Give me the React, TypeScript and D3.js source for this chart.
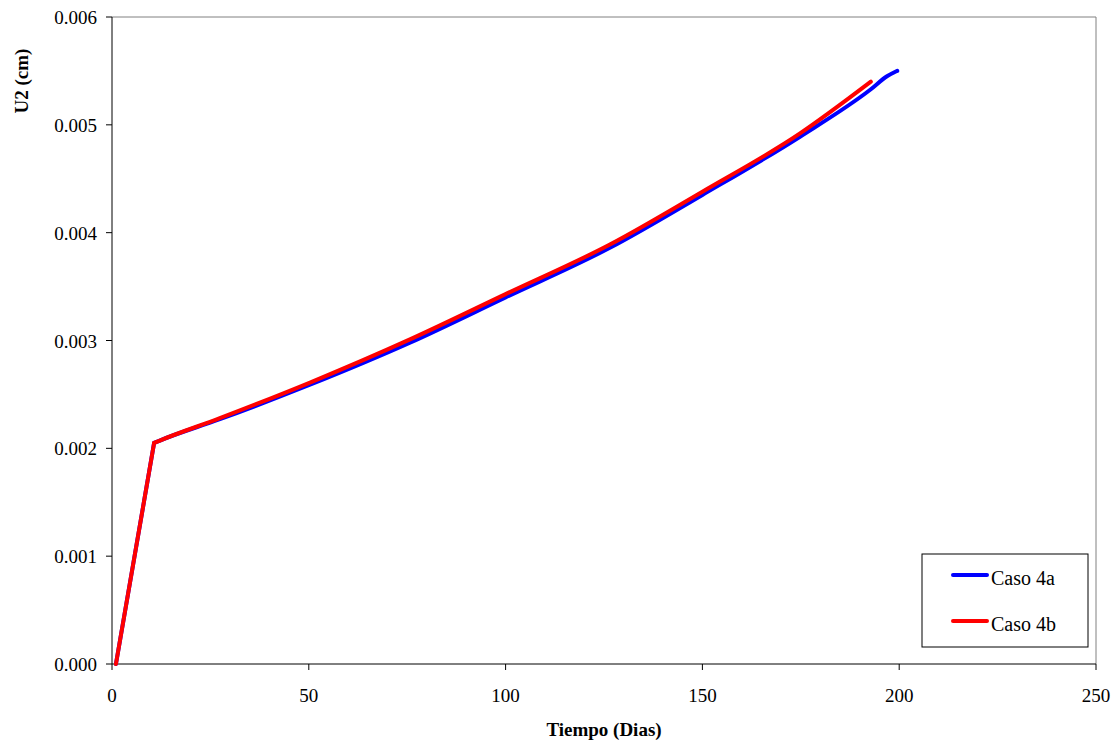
import React from "react";
import * as d3 from "d3";

const xTicks = [0, 50, 100, 150, 200, 250];
const yTicks = [0, 0.001, 0.002, 0.003, 0.004, 0.005, 0.006];

const caso4aX = [1, 10.7, 12, 27.4, 50.3, 75.7, 100, 126.5, 150, 174.8, 192.8, 196.9, 198.9, 199.5];
const caso4aY = [0, 0.00205, 0.00207, 0.00227, 0.00259, 0.00298, 0.0034, 0.00386, 0.00435, 0.00489, 0.00533, 0.00545, 0.00549, 0.0055];

const caso4bX = [1, 10.7, 12, 27.4, 50.3, 75.7, 100, 126.5, 150, 174.8, 192.8];
const caso4bY = [0, 0.00205, 0.00207, 0.00228, 0.00261, 0.00301, 0.00343, 0.00389, 0.00438, 0.00492, 0.0054];

const series = [
  { name: "Caso 4a", color: "#0000FF", xs: caso4aX, ys: caso4aY },
  { name: "Caso 4b", color: "#FF0000", xs: caso4bX, ys: caso4bY },
];

export default function App() {
  const W = 1120, H = 744;
  const left = 112, right = 1096, top = 17, bottom = 664;
  const x = d3.scaleLinear().domain([0, 250]).range([left, right]);
  const y = d3.scaleLinear().domain([0, 0.006]).range([bottom, top]);
  const lin = d3
    .line<[number, number]>()
    .x((d) => x(d[0]))
    .y((d) => y(d[1]));
  const smooth = d3
    .line<[number, number]>()
    .x((d) => x(d[0]))
    .y((d) => y(d[1]))
    .curve(d3.curveMonotoneX);
  const font = "'Liberation Serif', 'Times New Roman', serif";

  return (
    <svg width={W} height={H} style={{ position: "absolute", left: 0, top: 0 }} fontFamily={font}>
      <rect x={0} y={0} width={W} height={H} fill="#fff" />
      <line x1={left} x2={right} y1={top} y2={top} stroke="#808080" strokeWidth={1} />
      <line x1={right} x2={right} y1={top} y2={bottom} stroke="#808080" strokeWidth={1} />
      <line x1={left} x2={left} y1={top} y2={bottom} stroke="#000" strokeWidth={1} />
      <line x1={left} x2={right} y1={bottom} y2={bottom} stroke="#000" strokeWidth={1} />
      {xTicks.map((t) => (
        <g key={"x" + t}>
          <line x1={x(t)} x2={x(t)} y1={bottom} y2={bottom + 6} stroke="#000" />
          <text x={x(t)} y={702} textAnchor="middle" fontSize={19}>{t}</text>
        </g>
      ))}
      {yTicks.map((t) => (
        <g key={"y" + t}>
          <line x1={left - 6} x2={left} y1={y(t)} y2={y(t)} stroke="#000" />
          <text x={97} y={y(t) + 7} textAnchor="end" fontSize={19}>{t.toFixed(3)}</text>
        </g>
      ))}
      <text x={604} y={736} textAnchor="middle" fontSize={19} fontWeight="bold">Tiempo (Dias)</text>
      <text transform="translate(28,81) rotate(-90)" textAnchor="middle" fontSize={19} fontWeight="bold">U2 (cm)</text>
      {series.map((s) => {
        const pts = s.xs.map((v, i) => [v, s.ys[i]] as [number, number]);
        return (
          <g key={s.name}>
            <path d={lin(pts.slice(0, 2)) || ""} fill="none" stroke={s.color} strokeWidth={4} strokeLinecap="round" strokeLinejoin="round" />
            <path d={smooth(pts.slice(1)) || ""} fill="none" stroke={s.color} strokeWidth={4} strokeLinecap="round" strokeLinejoin="round" />
          </g>
        );
      })}
      <rect x={922} y={554} width={166} height={93} fill="#fff" stroke="#000" strokeWidth={1} />
      {series.map((s, i) => (
        <g key={"lg" + s.name}>
          <line x1={953} x2={987} y1={575 + i * 46} y2={575 + i * 46} stroke={s.color} strokeWidth={4} strokeLinecap="round" />
          <text x={991} y={585 + i * 46} fontSize={20}>{s.name}</text>
        </g>
      ))}
    </svg>
  );
}
